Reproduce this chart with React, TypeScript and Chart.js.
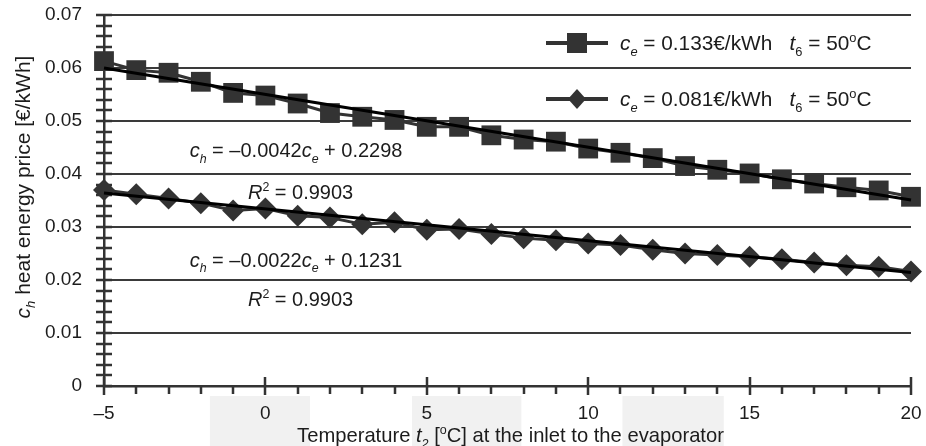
import React, { useEffect, useRef } from "react";
import { Chart, registerables } from "chart.js";

Chart.register(...registerables);

// ---------- data ----------
const temperatures = [-5, -4, -3, -2, -1, 0, 1, 2, 3, 4, 5, 6, 7, 8, 9, 10, 11, 12, 13, 14, 15, 16, 17, 18, 19, 20];

// c_e = 0.133 €/kWh, t6 = 50 °C  (squares)
const priceCe0133 = [
  0.0613, 0.0596, 0.0591, 0.0574, 0.0553, 0.0548, 0.0533, 0.0515, 0.0508, 0.0502,
  0.0489, 0.0489, 0.0473, 0.0465, 0.0461, 0.0448, 0.044, 0.043, 0.0415, 0.0408,
  0.0401, 0.039, 0.0382, 0.0375, 0.0369, 0.0357,
];

// c_e = 0.081 €/kWh, t6 = 50 °C  (diamonds)
const priceCe0081 = [
  0.037, 0.0362, 0.0354, 0.0345, 0.0331, 0.0335, 0.0321, 0.0318, 0.0305, 0.0309,
  0.0295, 0.0296, 0.0287, 0.0279, 0.0275, 0.0269, 0.0266, 0.0257, 0.025, 0.0247,
  0.0244, 0.0239, 0.0233, 0.0228, 0.0225, 0.0216,
];

// linear trend lines (end points)
const trendX = [-5, 20];
const trendCe0133 = [0.06, 0.0351];
const trendCe0081 = [0.0364, 0.0214];

const xTickValues = [-5, 0, 5, 10, 15, 20];
const xTickLabels = ["\u20135", "0", "5", "10", "15", "20"];
const yTickValues = [0, 0.01, 0.02, 0.03, 0.04, 0.05, 0.06, 0.07];
const yTickLabels = ["0", "0.01", "0.02", "0.03", "0.04", "0.05", "0.06", "0.07"];

const legendLabels = ["0.133", "0.081"];
const equationTexts = [
  { slope: "0.0042", intercept: "0.2298", r2: "0.9903" },
  { slope: "0.0022", intercept: "0.1231", r2: "0.9903" },
];

// light grey bands under the x axis (scan artefacts), in x-data units
const greyBands = [
  [-1.72, 1.38],
  [4.54, 7.93],
  [11.06, 14.2],
];

// ---------- styling / layout ----------
const FONT = '"Liberation Sans", Arial, Helvetica, sans-serif';
const TEXT = "#1c1c1c";
const DARK = "#333333";
const TEXT_SIZE = 20;

type Part = { t: string; i?: boolean; sub?: boolean; sup?: boolean };

function partFont(p: Part, size: number) {
  const s = p.sub || p.sup ? size * 0.62 : size;
  return `${p.i ? "italic " : ""}${s}px ${FONT}`;
}

function richWidth(ctx: CanvasRenderingContext2D, parts: Part[], size: number) {
  let w = 0;
  for (const p of parts) {
    ctx.font = partFont(p, size);
    w += ctx.measureText(p.t).width;
  }
  return w;
}

function drawRich(
  ctx: CanvasRenderingContext2D,
  parts: Part[],
  x: number,
  yMid: number,
  size: number,
  align: "left" | "center"
) {
  const w = richWidth(ctx, parts, size);
  let cx = align === "center" ? x - w / 2 : x;
  const base = yMid + size * 0.36;
  ctx.textAlign = "left";
  ctx.textBaseline = "alphabetic";
  ctx.fillStyle = TEXT;
  for (const p of parts) {
    ctx.font = partFont(p, size);
    const dy = p.sub ? size * 0.28 : p.sup ? -size * 0.42 : 0;
    ctx.fillText(p.t, cx, base + dy);
    cx += ctx.measureText(p.t).width;
  }
}

function legendParts(price: string): Part[] {
  return [
    { t: "c", i: true },
    { t: "e", i: true, sub: true },
    { t: ` = ${price}\u20AC/kWh   ` },
    { t: "t", i: true },
    { t: "6", sub: true },
    { t: " = 50" },
    { t: "o", sup: true },
    { t: "C" },
  ];
}

const decorPlugin = {
  id: "decor",
  beforeDraw(chart: any) {
    const { ctx, chartArea, scales } = chart;
    const xs = scales.x;
    ctx.save();
    ctx.fillStyle = "#f1f1f1";
    for (const [a, b] of greyBands) {
      const p0 = xs.getPixelForValue(a);
      const p1 = xs.getPixelForValue(b);
      ctx.fillRect(p0, chartArea.bottom + 10, p1 - p0, chart.height - chartArea.bottom - 10);
    }
    ctx.restore();
  },
  beforeDatasetsDraw(chart: any) {
    const { ctx, chartArea, scales } = chart;
    const xs = scales.x;
    const ys = scales.y;
    ctx.save();
    ctx.strokeStyle = DARK;
    ctx.lineWidth = 2.5;
    ctx.beginPath();
    // y minor ticks every 0.002, crossing the axis
    for (let k = 0; k <= 35; k++) {
      const py = Math.round(ys.getPixelForValue(k * 0.002));
      ctx.moveTo(chartArea.left - 8, py);
      ctx.lineTo(chartArea.left + 8, py);
    }
    // x ticks every 1 unit
    for (let t = -5; t <= 20; t++) {
      const px = Math.round(xs.getPixelForValue(t));
      if (t % 5 === 0) {
        ctx.moveTo(px, chartArea.bottom - 9);
        ctx.lineTo(px, chartArea.bottom + 9);
      } else {
        ctx.moveTo(px, chartArea.bottom);
        ctx.lineTo(px, chartArea.bottom + 8);
      }
    }
    ctx.stroke();
    ctx.restore();
  },
  afterDraw(chart: any) {
    const { ctx, chartArea, scales } = chart;
    const xs = scales.x;
    const ys = scales.y;
    ctx.save();

    // legend (inside plot, top right)
    const lx0 = chartArea.right - 365;
    const lx1 = chartArea.right - 303;
    const lmx = (lx0 + lx1) / 2;
    const ltx = chartArea.right - 291;
    const rows = [chartArea.top + 28, chartArea.top + 84];
    rows.forEach((ly, idx) => {
      ctx.strokeStyle = DARK;
      ctx.lineWidth = 4;
      ctx.beginPath();
      ctx.moveTo(lx0, ly);
      ctx.lineTo(lx1, ly);
      ctx.stroke();
      ctx.fillStyle = DARK;
      ctx.beginPath();
      if (idx === 0) {
        ctx.rect(lmx - 10, ly - 10, 20, 20);
      } else {
        ctx.moveTo(lmx, ly - 10);
        ctx.lineTo(lmx + 9, ly);
        ctx.lineTo(lmx, ly + 10);
        ctx.lineTo(lmx - 9, ly);
        ctx.closePath();
      }
      ctx.fill();
      drawRich(ctx, legendParts(legendLabels[idx]), ltx, ly, 20.8, "left");
    });

    // regression equations
    const eqPos = [
      { x: 0.95, y: 0.0445, rx: 1.09, ry: 0.0366 },
      { x: 0.95, y: 0.0239, rx: 1.09, ry: 0.0164 },
    ];
    equationTexts.forEach((eq, i) => {
      const pos = eqPos[i];
      drawRich(
        ctx,
        [
          { t: "c", i: true },
          { t: "h", i: true, sub: true },
          { t: ` = \u2013${eq.slope}` },
          { t: "c", i: true },
          { t: "e", i: true, sub: true },
          { t: ` + ${eq.intercept}` },
        ],
        xs.getPixelForValue(pos.x),
        ys.getPixelForValue(pos.y),
        TEXT_SIZE,
        "center"
      );
      drawRich(
        ctx,
        [{ t: "R", i: true }, { t: "2", sup: true }, { t: ` = ${eq.r2}` }],
        xs.getPixelForValue(pos.rx),
        ys.getPixelForValue(pos.ry),
        TEXT_SIZE,
        "center"
      );
    });

    // x axis title
    drawRich(
      ctx,
      [
        { t: "Temperature " },
        { t: "t", i: true },
        { t: "2", i: true, sub: true },
        { t: " [" },
        { t: "o", sup: true },
        { t: "C] at the inlet to the evaporator" },
      ],
      (chartArea.left + chartArea.right) / 2 + 3,
      chart.height - 11,
      20.2,
      "center"
    );

    // y axis title
    ctx.translate(22, 187);
    ctx.rotate(-Math.PI / 2);
    drawRich(
      ctx,
      [
        { t: "c", i: true },
        { t: "h", i: true, sub: true },
        { t: " heat energy price [\u20AC/kWh]" },
      ],
      0,
      0,
      21,
      "center"
    );
    ctx.restore();
  },
};

export default function App() {
  const ref = useRef<HTMLCanvasElement | null>(null);

  useEffect(() => {
    if (!ref.current) return;
    const pts = (ys: number[]) => temperatures.map((t, i) => ({ x: t, y: ys[i] }));
    const tpts = (ys: number[]) => trendX.map((t, i) => ({ x: t, y: ys[i] }));

    const chart = new Chart(ref.current, {
      type: "line",
      data: {
        datasets: [
          {
            label: "trend 0.133",
            data: tpts(trendCe0133),
            borderColor: "#000",
            borderWidth: 3,
            pointRadius: 0,
            order: 0,
            clip: false,
          },
          {
            label: "trend 0.081",
            data: tpts(trendCe0081),
            borderColor: "#000",
            borderWidth: 3,
            pointRadius: 0,
            order: 0,
            clip: false,
          },
          {
            label: "c_e = 0.133 €/kWh",
            data: pts(priceCe0133),
            borderColor: DARK,
            borderWidth: 3,
            backgroundColor: DARK,
            pointStyle: "rect",
            pointRadius: 14,
            pointBorderWidth: 0,
            pointBackgroundColor: DARK,
            order: 1,
            clip: false,
          },
          {
            label: "c_e = 0.081 €/kWh",
            data: pts(priceCe0081),
            borderColor: DARK,
            borderWidth: 3,
            backgroundColor: DARK,
            pointStyle: "rectRot",
            pointRadius: 11,
            pointBorderWidth: 0,
            pointBackgroundColor: DARK,
            order: 1,
            clip: false,
          },
        ],
      },
      options: {
        animation: false,
        responsive: false,
        devicePixelRatio: 1,
        layout: { padding: { top: 15, right: 15, left: 0, bottom: 0 } },
        plugins: {
          legend: { display: false },
          tooltip: { enabled: false },
          title: { display: false },
        },
        elements: { line: { tension: 0 } },
        scales: {
          x: {
            type: "linear",
            min: -5,
            max: 20,
            afterBuildTicks: (scale: any) => {
              scale.ticks = xTickValues.map((v) => ({ value: v }));
            },
            afterFit: (scale: any) => {
              scale.height = 60;
            },
            ticks: {
              autoSkip: false,
              maxRotation: 0,
              padding: 0,
              color: TEXT,
              font: { family: FONT, size: 19 },
              callback: (v: any) => {
                const i = xTickValues.indexOf(Number(v));
                return i >= 0 ? xTickLabels[i] : "";
              },
            },
            grid: { display: false, drawTicks: true, tickLength: 16, tickColor: "rgba(0,0,0,0)" },
            border: { display: true, color: DARK, width: 2.5 },
          },
          y: {
            type: "linear",
            min: 0,
            max: 0.07,
            afterBuildTicks: (scale: any) => {
              scale.ticks = yTickValues.map((v) => ({ value: v }));
            },
            afterFit: (scale: any) => {
              scale.width = 104;
            },
            ticks: {
              autoSkip: false,
              padding: 0,
              color: TEXT,
              font: { family: FONT, size: 19 },
              callback: (v: any) => {
                const i = yTickValues.findIndex((t) => Math.abs(t - Number(v)) < 1e-9);
                return i >= 0 ? yTickLabels[i] : "";
              },
            },
            grid: {
              display: true,
              drawTicks: true,
              tickLength: 22,
              tickColor: "rgba(0,0,0,0)",
              color: "#3a3a3a",
              lineWidth: 2,
            },
            border: { display: true, color: DARK, width: 2.5 },
          },
        },
      },
      plugins: [decorPlugin],
    } as any);

    return () => chart.destroy();
  }, []);

  return (
    <div style={{ position: "fixed", left: 0, top: 0, width: 926, height: 446, background: "#fff" }}>
      <canvas ref={ref} width={926} height={446} style={{ display: "block", width: 926, height: 446 }} />
    </div>
  );
}
